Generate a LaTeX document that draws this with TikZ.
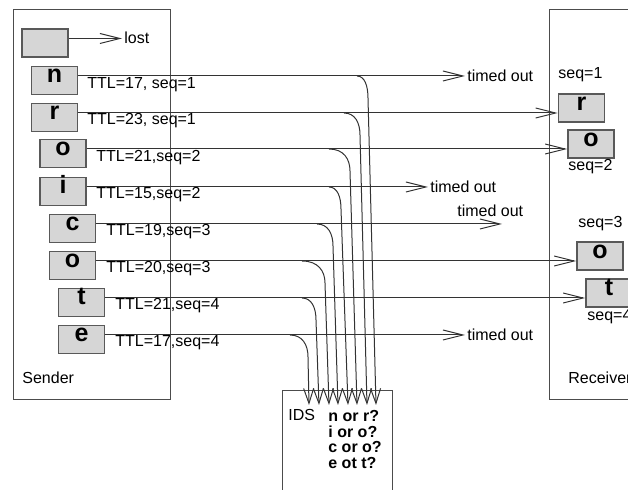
\documentclass[tikz,border=0pt]{standalone}
\usepackage{fontspec}
\setmainfont{Liberation Sans}
\usetikzlibrary{arrows.meta}

\begin{document}
\begin{tikzpicture}[x=0.5pt, y=-0.5pt,
    wire/.style={draw=black!80, line width=0.5pt},
    sendarr/.style={wire, -{Straight Barb[length=10pt,width=5pt]}},
    tap/.style={wire, -{Straight Barb[length=7.5pt,width=5pt]}},
    host/.style={draw=black!70, line width=0.5pt},
    pkt/.style={draw=black!65, line width=0.8pt, fill=black!16, minimum width=23pt, minimum height=14pt,
        inner sep=0pt, text height=8.25pt, text depth=5.75pt, font=\bfseries\fontsize{12.5}{12.5}\selectfont},
    txt/.style={inner sep=0pt, anchor=base west, font=\fontsize{8}{9.6}\selectfont},
    guess/.style={txt, font=\bfseries\fontsize{8}{9.6}\selectfont}]
    \clip (0,0) rectangle (628,490);

    % sender and receiver
    \draw[host] (13,10) rectangle (170,400);
    \draw[host] (549,10) rectangle (660,400);
    \node[txt] (sender) at (22,384) {Sender};
    \node[txt] (receiver) at (568,384) {Receiver};

    % packets sent
    \node[pkt] (plost) at (45,43) {};
    \node[pkt] (pn) at (54.5,80.5) {n};
    \node[pkt] (pr) at (54.5,117.5) {r};
    \node[pkt] (poa) at (63,153.5) {o};
    \node[pkt] (pi) at (63,191.5) {i};
    \node[pkt] (pc) at (72.5,228.5) {c};
    \node[pkt] (pob) at (72.5,265.5) {o};
    \node[pkt] (pt) at (81.5,302.5) {t};
    \node[pkt] (pe) at (81.5,339.5) {e};
    \foreach \p in {plost,pn,pr,poa,pi,pc,pob,pt,pe}
        \coordinate (s\p) at ([yshift=2.25pt]\p.east);

    \node[txt] (ln) at (87,89) {TTL=17, seq=1};
    \node[txt] (lr) at (87,125) {TTL=23, seq=1};
    \node[txt] (loa) at (96,162) {TTL=21,seq=2};
    \node[txt] (li) at (96,199) {TTL=15,seq=2};
    \node[txt] (lc) at (106,236) {TTL=19,seq=3};
    \node[txt] (lob) at (106,273) {TTL=20,seq=3};
    \node[txt] (lt) at (115,310) {TTL=21,seq=4};
    \node[txt] (le) at (115,347) {TTL=17,seq=4};

    % packets received
    \node[pkt] (rr) at (581.5,108) {r};
    \node[pkt] (roa) at (591,144) {o};
    \node[pkt] (rob) at (600,256) {o};
    \node[pkt] (rt) at (609,293) {t};
    \node[txt] (qa) at (558,79) {seq=1};
    \node[txt] (qb) at (568,171) {seq=2};
    \node[txt] (qc) at (578,228) {seq=3};
    \node[txt] (qd) at (587,321) {seq=4};

    % dropped ones
    \node[txt, anchor=west, inner sep=1pt] (lost) at (122,38) {lost};
    \node[txt, anchor=west, inner sep=1pt] (tn) at (465,76) {timed out};
    \node[txt, anchor=west, inner sep=1pt] (ti) at (428,187) {timed out};
    \node[txt] (tc) at (457,217) {timed out};
    \coordinate (tcend) at (502,224);
    \node[txt, anchor=west, inner sep=1pt] (te) at (465,335) {timed out};

    \draw[sendarr] (splost) -- (splost -| lost.west);
    \draw[sendarr] (spn) -- (spn -| tn.west);
    \draw[sendarr] (spr) -- (spr -| rr.west);
    \draw[sendarr] (spoa) -- (spoa -| roa.west);
    \draw[sendarr] (spi) -- (spi -| ti.west);
    \draw[sendarr] (spc) -- (spc -| tcend);
    \draw[sendarr] (spob) -- (spob -| rob.west);
    \draw[sendarr] (spt) -- (spt -| rt.west);
    \draw[sendarr] (spe) -- (spe -| te.west);

    % IDS
    \node[host, minimum width=55pt, minimum height=60pt, anchor=north west, inner sep=0pt] (ids) at (282,390) {};
    \coordinate (idsin) at ([yshift=-7.5pt]ids.north);
    \node[txt] (idsname) at (288,421) {IDS};
    \foreach \t [count=\i] in {n or r?, i or o?, c or o?, e ot t?}
        \node[guess] (g\i) at (328,406.5+15.5*\i) {\t};

    % copies to the IDS
    \foreach \s/\x/\v/\b in {spn/357/368/376, spr/344/360/367, spoa/329/350/357, spi/329/341/348,
        spc/317/333/338, spob/302/325/329, spt/302/316/319, spe/290/308/309}
        \draw[tap] (\s -| \x,0) .. controls +({0.7*(\v-\x)},0) and +(0,-12) .. ++({\v-\x},22) -- (idsin -| \b,0);
\end{tikzpicture}
\end{document}
